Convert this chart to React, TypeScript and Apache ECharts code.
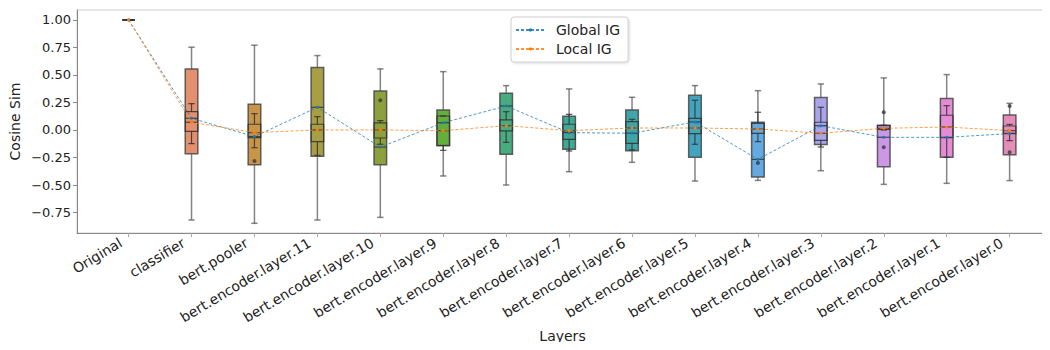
import React, { useEffect, useRef } from "react";
import * as echarts from "echarts";

const categories = [
  "Original",
  "classifier",
  "bert.pooler",
  "bert.encoder.layer.11",
  "bert.encoder.layer.10",
  "bert.encoder.layer.9",
  "bert.encoder.layer.8",
  "bert.encoder.layer.7",
  "bert.encoder.layer.6",
  "bert.encoder.layer.5",
  "bert.encoder.layer.4",
  "bert.encoder.layer.3",
  "bert.encoder.layer.2",
  "bert.encoder.layer.1",
  "bert.encoder.layer.0",
];

const globalIG = [1.0, 0.106, -0.06, 0.206, -0.155, 0.066, 0.218, -0.024, -0.03, 0.073, -0.267, 0.039, -0.067, -0.067, -0.033];
const localIG = [1.0, 0.07, -0.024, 0.0, 0.0, -0.006, 0.039, -0.006, 0.018, 0.018, 0.009, -0.03, 0.015, 0.027, -0.006];

// outer boxes: [min, q1, median, q3, max]
const outerBoxes = [
  [1, 1, 1, 1, 1],
  [-0.818, -0.215, 0.106, 0.555, 0.752],
  [-0.848, -0.315, -0.06, 0.233, 0.77],
  [-0.818, -0.239, 0.206, 0.567, 0.676],
  [-0.794, -0.315, -0.155, 0.355, 0.555],
  [-0.418, -0.142, 0.066, 0.182, 0.53],
  [-0.5, -0.221, 0.218, 0.333, 0.403],
  [-0.379, -0.176, -0.024, 0.124, 0.373],
  [-0.294, -0.188, -0.03, 0.182, 0.297],
  [-0.464, -0.248, 0.073, 0.315, 0.403],
  [-0.458, -0.427, -0.267, 0.07, 0.357],
  [-0.37, -0.133, 0.039, 0.294, 0.418],
  [-0.494, -0.333, -0.067, 0.043, 0.473],
  [-0.485, -0.248, -0.067, 0.285, 0.503],
  [-0.46, -0.224, -0.033, 0.136, 0.242],
];

// inner boxes: [min, q1, median, q3, max]
const innerBoxes = [
  [1, 1, 1, 1, 1],
  [-0.124, -0.012, 0.07, 0.166, 0.239],
  [-0.161, -0.07, -0.024, 0.052, 0.148],
  [-0.23, -0.106, 0.0, 0.052, 0.121],
  [-0.13, -0.073, 0.0, 0.064, 0.085],
  [-0.185, -0.142, -0.006, 0.127, 0.127],
  [-0.112, -0.009, 0.039, 0.091, 0.166],
  [-0.191, -0.085, -0.006, 0.052, 0.142],
  [-0.18, -0.121, 0.018, 0.076, 0.097],
  [-0.13, -0.033, 0.018, 0.106, 0.27],
  [-0.106, -0.03, 0.009, 0.06, 0.161],
  [-0.155, -0.094, -0.03, 0.07, 0.206],
  [0.0, 0.006, 0.015, 0.04, 0.043],
  [-0.248, -0.07, 0.027, 0.134, 0.221],
  [-0.097, -0.03, -0.006, 0.036, 0.05],
];

const outliers = [
  [2, -0.282],
  [4, 0.27],
  [10, -0.3],
  [12, 0.161],
  [12, -0.157],
  [14, 0.218],
  [14, -0.203],
];

const boxColors = [
  "#e8836e", "#e48f6e", "#c89448", "#a89e44", "#8ca03c", "#64af3c", "#48ac80",
  "#40a896", "#3ea6a6", "#42a4be", "#64aae1", "#aaa5eb", "#cd96e6", "#e68cd7", "#e68cb9",
];

const yTicks = [-0.75, -0.5, -0.25, 0, 0.25, 0.5, 0.75, 1.0];

export default function App() {
  const ref = useRef<HTMLDivElement>(null);
  useEffect(() => {
    if (!ref.current) return;
    const chart = echarts.init(ref.current, undefined, { renderer: "svg" });
    const font = "DejaVu Sans";
    const boxData = categories.map((_, i) => [i, ...outerBoxes[i], ...innerBoxes[i]]);
    const option: any = {
      animation: false,
      textStyle: { fontFamily: font },
      grid: {
        left: 76,
        right: 2,
        top: 10,
        bottom: 117,
        show: true,
        borderColor: "#cccccc",
        borderWidth: 1,
      },
      legend: {
        data: ["Global IG", "Local IG"],
        orient: "vertical",
        left: 511,
        top: 17,
        padding: [6, 8, 6, 4],
        itemWidth: 29,
        itemHeight: 4,
        itemGap: 5,
        borderColor: "#d0d0d0",
        borderWidth: 1,
        borderRadius: 3,
        backgroundColor: "#ffffff",
        shadowColor: "rgba(0,0,0,0.15)",
        shadowBlur: 2,
        shadowOffsetX: 1,
        shadowOffsetY: 1,
        textStyle: { fontSize: 14, color: "#222", fontFamily: font, padding: [0, 0, 0, 6] },
      },
      xAxis: {
        type: "value",
        min: -0.82,
        max: 14.61,
        name: "Layers",
        nameLocation: "middle",
        nameGap: 96,
        nameMoveOverlap: false,
        nameTextStyle: { fontSize: 14, color: "#222", fontFamily: font },
        splitLine: { show: false },
        axisLine: { show: true, onZero: false, lineStyle: { color: "#888", width: 1 } },
        axisTick: {
          show: true,
          length: 4,
          lineStyle: { color: "#aaa" },
          customValues: categories.map((_, i) => i),
        },
        axisLabel: {
          customValues: categories.map((_, i) => i),
          formatter: (v: number) => categories[Math.round(v)],
          rotate: 31,
          fontSize: 14,
          color: "#222",
          margin: 12,
          align: "right",
          verticalAlign: "bottom",
          padding: [0, 5, 0, 0],
          fontFamily: font,
        },
      },
      yAxis: {
        type: "value",
        min: -0.936,
        max: 1.09,
        name: "Cosine Sim",
        nameLocation: "middle",
        nameGap: 55,
        nameMoveOverlap: false,
        nameTextStyle: { fontSize: 14, color: "#222", fontFamily: font },
        splitLine: { show: false },
        axisLine: { show: true, onZero: false, lineStyle: { color: "#888", width: 1 } },
        axisTick: { show: true, length: 4, lineStyle: { color: "#888" }, customValues: yTicks },
        axisLabel: {
          customValues: yTicks,
          formatter: (v: number) => (v < 0 ? "\u2212" + Math.abs(v).toFixed(2) : v.toFixed(2)),
          fontSize: 13,
          color: "#222",
          margin: 6,
          fontFamily: font,
        },
      },
      series: [
        {
          type: "custom",
          name: "boxes",
          data: boxData,
          encode: { x: 0, y: [1, 2, 3, 4, 5, 6, 7, 8, 9, 10] },
          z: 2,
          renderItem: (params: any, api: any) => {
            const i = api.value(0);
            const o = [1, 2, 3, 4, 5].map((k) => api.value(k));
            const n = [6, 7, 8, 9, 10].map((k) => api.value(k));
            const cx = api.coord([i, 0])[0];
            const y = (v: number) => api.coord([i, v])[1];
            const w = api.size([0.2, 0])[0];
            const h = w / 2;
            const cap = w / 4;
            const whisk = { stroke: "rgba(90,90,90,0.75)", lineWidth: 1.5 };
            const dark = { stroke: "rgba(50,50,50,0.85)", lineWidth: 1.2 };
            const seg = (x1: number, y1: number, x2: number, y2: number, style: any) => ({
              type: "line",
              shape: { x1, y1, x2, y2 },
              style,
            });
            const color = boxColors[params.dataIndex];
            const children: any[] = [
              seg(cx, y(o[4]), cx, y(o[3]), whisk),
              seg(cx, y(o[1]), cx, y(o[0]), whisk),
              seg(cx - cap, y(o[4]), cx + cap, y(o[4]), whisk),
              seg(cx - cap, y(o[0]), cx + cap, y(o[0]), whisk),
              {
                type: "rect",
                shape: { x: cx - h, y: y(o[3]), width: w, height: y(o[1]) - y(o[3]) },
                style: { fill: color, stroke: "rgba(70,70,70,0.85)", lineWidth: 1.5 },
              },
              seg(cx - h, y(o[2]), cx + h, y(o[2]), dark),
              seg(cx, y(n[4]), cx, y(n[3]), dark),
              seg(cx, y(n[1]), cx, y(n[0]), dark),
              seg(cx - cap, y(n[4]), cx + cap, y(n[4]), dark),
              seg(cx - cap, y(n[0]), cx + cap, y(n[0]), dark),
              {
                type: "rect",
                shape: { x: cx - h, y: y(n[3]), width: w, height: y(n[1]) - y(n[3]) },
                style: { fill: "none", stroke: "rgba(50,50,50,0.85)", lineWidth: 1.2 },
              },
              seg(cx - h, y(n[2]), cx + h, y(n[2]), dark),
            ];
            return { type: "group", children };
          },
        },
        {
          type: "scatter",
          name: "outliers",
          data: outliers,
          symbol: "circle",
          symbolSize: 4,
          itemStyle: { color: "#3a3a3a" },
          z: 3,
        },
        {
          type: "line",
          name: "Global IG",
          data: globalIG.map((v, i) => [i, v]),
          symbol: "circle",
          symbolSize: 3,
          showSymbol: true,
          itemStyle: { color: "#1f77b4" },
          lineStyle: { color: "#1f77b4", width: 0.9, type: [3, 2], opacity: 0.85 },
          z: 4,
        },
        {
          type: "line",
          name: "Local IG",
          data: localIG.map((v, i) => [i, v]),
          symbol: "circle",
          symbolSize: 3,
          showSymbol: true,
          itemStyle: { color: "#ff7f0e" },
          lineStyle: { color: "#ff7f0e", width: 0.9, type: [3, 2], opacity: 0.85 },
          z: 4,
        },
      ],
    };
    chart.setOption(option);
    return () => chart.dispose();
  }, []);
  return <div ref={ref} style={{ width: 1050, height: 350, margin: -8 }} />;
}
